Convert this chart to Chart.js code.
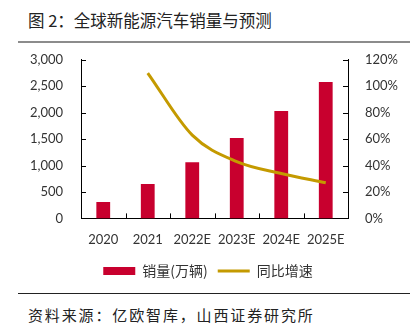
<!DOCTYPE html>
<html>
<head>
<meta charset="utf-8">
<script src="https://cdn.jsdelivr.net/npm/chart.js@4"></script>
<style>
    body { margin: 0; width: 416px; height: 334px; background: #fff; position: relative; overflow: hidden; font-family: "Noto Sans CJK SC", sans-serif; }
    .title { position: absolute; left: 28px; top: 8px; font-size: 16.5px; color: #222; white-space: nowrap; }
    .rule-top { position: absolute; left: 18px; top: 41px; width: 392px; height: 2px; background: #8c8c8c; }
    .rule-bottom { position: absolute; left: 18px; top: 293px; width: 392px; height: 1px; background: #222; }
    .source { position: absolute; left: 28px; top: 304px; width: 285px; font-size: 15px; line-height: 22px; color: #222;
              display: flex; justify-content: space-between; }
    .chart-box { position: absolute; left: 0; top: 42px; width: 416px; height: 246px; }
</style>
</head>
<body>
<div class="title">图 2：全球新能源汽车销量与预测</div>
<div class="rule-top"></div>
<div class="chart-box"><canvas id="salesChart"></canvas></div>
<div class="rule-bottom"></div>
<div class="source" id="source">资料来源：亿欧智库，山西证券研究所</div>

<script>
// Data
const years = ['2020', '2021', '2022E', '2023E', '2024E', '2025E'];
const sales = [310, 650, 1060, 1520, 2030, 2580];      // 万辆
const growth = [null, 110, 63, 43, 34, 27];             // %

const barColor = '#C8002E';
const lineColor = '#C49A00';
const tickFont = { family: 'Lato, "Noto Sans", sans-serif', size: 13 };

// spread the source line over its box, one span per character
const sourceEl = document.getElementById('source');
sourceEl.innerHTML = Array.from(sourceEl.textContent).map(c => `<span>${c}</span>`).join('');

// Short tick marks pointing into the plot
const innerTicks = {
    id: 'innerTicks',
    afterDraw(chart) {
        const ctx = chart.ctx;
        const area = chart.chartArea;
        const x = chart.scales.x;
        const y = chart.scales.y;
        const y1 = chart.scales.y1;
        ctx.save();
        ctx.strokeStyle = '#000';
        ctx.lineWidth = 1;
        ctx.beginPath();
        y.ticks.forEach(t => {
            const py = Math.round(y.getPixelForValue(t.value)) + 0.5;
            ctx.moveTo(area.left, py);
            ctx.lineTo(area.left + 5, py);
        });
        y1.ticks.forEach(t => {
            const py = Math.round(y1.getPixelForValue(t.value)) + 0.5;
            ctx.moveTo(area.right, py);
            ctx.lineTo(area.right - 5, py);
        });
        for (let i = 1; i < years.length; i++) {
            const px = Math.round((x.getPixelForValue(i - 1) + x.getPixelForValue(i)) / 2) + 0.5;
            ctx.moveTo(px, area.bottom);
            ctx.lineTo(px, area.bottom - 5);
        }
        ctx.stroke();
        ctx.restore();
    }
};

new Chart(document.getElementById('salesChart'), {
    type: 'bar',
    data: {
        labels: years,
        datasets: [{
            label: '销量(万辆)',
            data: sales,
            backgroundColor: barColor,
            borderWidth: 0,
            categoryPercentage: 1,
            barPercentage: 0.31,
            yAxisID: 'y',
            order: 1
        }, {
            type: 'line',
            label: '同比增速',
            data: growth,
            borderColor: lineColor,
            backgroundColor: lineColor,
            borderWidth: 3,
            pointRadius: 0,
            cubicInterpolationMode: 'monotone',
            yAxisID: 'y1',
            order: 0
        }]
    },
    options: {
        responsive: true,
        maintainAspectRatio: false,
        animation: false,
        layout: { padding: { top: 4, left: 0, right: 0, bottom: 0 } },
        plugins: {
            tooltip: { enabled: false },
            legend: {
                position: 'bottom',
                labels: {
                    usePointStyle: true,
                    pointStyleWidth: 32,
                    boxHeight: 8,
                    padding: 10,
                    color: '#333',
                    font: { family: '"Noto Sans CJK SC", sans-serif', size: 14 },
                    sort: (a, b) => a.datasetIndex - b.datasetIndex,
                    generateLabels(chart) {
                        return chart.data.datasets.map((ds, i) => ({
                            text: ds.label,
                            datasetIndex: i,
                            fillStyle: ds.type === 'line' ? 'transparent' : barColor,
                            strokeStyle: ds.type === 'line' ? lineColor : barColor,
                            lineWidth: ds.type === 'line' ? 3 : 0,
                            pointStyle: ds.type === 'line' ? 'line' : 'rect',
                            fontColor: '#333',
                            hidden: false
                        }));
                    }
                }
            }
        },
        scales: {
            x: {
                grid: { display: false, offset: true },
                border: { display: true, color: '#000', width: 1 },
                ticks: { color: '#333', font: tickFont, padding: 6 }
            },
            y: {
                position: 'left',
                min: 0,
                max: 3000,
                ticks: {
                    stepSize: 500,
                    color: '#333',
                    font: tickFont,
                    padding: 10,
                    callback: v => v.toLocaleString('en-US')
                },
                grid: { display: false },
                border: { display: true, color: '#000', width: 1 },
                afterFit: scale => { scale.width = 81; }
            },
            y1: {
                position: 'right',
                min: 0,
                max: 120,
                ticks: {
                    stepSize: 20,
                    color: '#333',
                    font: tickFont,
                    padding: 9,
                    callback: v => v + '%'
                },
                grid: { display: false },
                border: { display: true, color: '#000', width: 1 },
                afterFit: scale => { scale.width = 68; }
            }
        }
    },
    plugins: [innerTicks]
});
</script>
</body>
</html>
